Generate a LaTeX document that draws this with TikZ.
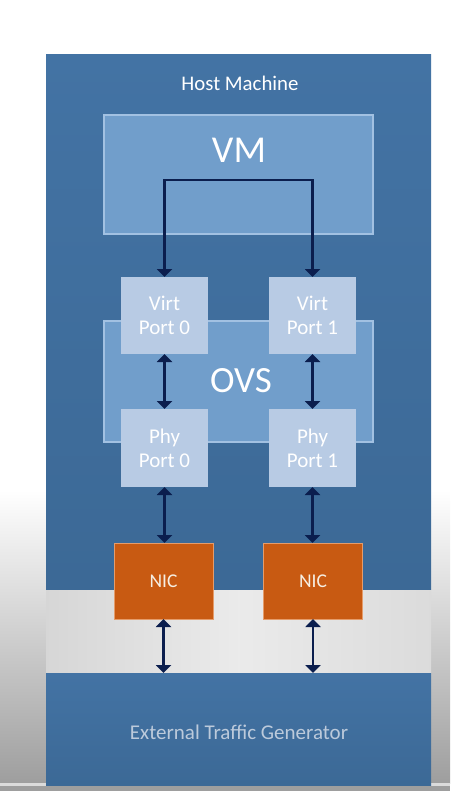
\documentclass[tikz,border=0pt]{standalone}
\usepackage{fontspec}
\setmainfont{Carlito}
\usetikzlibrary{arrows.meta}
\definecolor{hosttop}{HTML}{4373A4}
\definecolor{hostbot}{HTML}{3C6996}
\definecolor{vmblue}{HTML}{719ECB}
\definecolor{vmborder}{HTML}{A2C1E2}
\definecolor{portfill}{HTML}{B8CBE4}
\definecolor{nicorange}{HTML}{C85A12}
\definecolor{nicborder}{HTML}{E59C6A}
\definecolor{navy}{HTML}{0B1E4E}
\definecolor{exttext}{HTML}{BCCADB}
\definecolor{nictext}{HTML}{F6EEE2}
\begin{document}
\begin{tikzpicture}[x=1pt,y=-1pt,
  every node/.style={inner sep=0pt, outer sep=0pt},
  hostbox/.style={rectangle, top color=hosttop, bottom color=hostbot, draw=none},
  layerbox/.style={rectangle, fill=vmblue, draw=vmborder, line width=1.2pt},
  portbox/.style={rectangle, fill=portfill, draw=none, minimum width=87pt, minimum height=77pt,
    text=white, align=center, font=\fontsize{21}{24}\selectfont},
  nicbox/.style={rectangle, fill=nicorange, draw=nicborder, line width=1pt, minimum width=99pt,
    minimum height=76pt, text=nictext, font=\fontsize{19.5}{22}\selectfont},
  biarrow/.style={draw=navy, line width=2.6pt, line join=miter,
    {Triangle[width=15pt,length=8pt]}-{Triangle[width=15pt,length=8pt]}}
]
\useasboundingbox (0,0) rectangle (450,791);
% background
\fill[white] (0,0) rectangle (450,791);
\shade[top color=white, bottom color=black!38] (0,490) rectangle (450,783);
\shade[left color=black!16, right color=black!14, middle color=black!8] (46,589) rectangle (431,673);
\fill[black!14] (0,783) rectangle (450,786);
\fill[black!38] (0,786) rectangle (450,791);

% host machine
\node[hostbox, minimum width=385pt, minimum height=534pt] (host) at (238.5,322) {};
\node[text=white, font=\fontsize{20.8}{24}\selectfont] (hostlabel) at (240,83) {Host Machine};

% VM
\node[layerbox, minimum width=269pt, minimum height=119pt] (vm) at (238.5,174.5) {};
\node[text=white, font=\fontsize{38}{44}\selectfont] (vmlabel) at (239,150.5) {VM};

% OVS
\node[layerbox, minimum width=269pt, minimum height=121pt] (ovs) at (238.5,381.5) {};
\node[text=white, font=\fontsize{37}{42}\selectfont] (ovslabel) at (241,381) {OVS};

% ports
\node[portbox] (v0) at (164.5,315.5) {Virt\\Port 0};
\node[portbox] (v1) at (312.5,315.5) {Virt\\Port 1};
\node[portbox, minimum height=78pt] (p0) at (164.5,448) {Phy\\Port 0};
\node[portbox, minimum height=78pt] (p1) at (312.5,448) {Phy\\Port 1};

% NICs
\node[nicbox] (n0) at (163.5,581) {NIC};
\node[nicbox] (n1) at (313,581) {NIC};

% external generator
\node[hostbox, minimum width=385pt, minimum height=112pt] (ext) at (238.5,729) {};
\node[text=exttext, font=\fontsize{21}{24}\selectfont] (extlabel) at (239,732) {External Traffic Generator};

% connectors
\coordinate (bus) at (312.5,180);
\draw[biarrow] (v0.north) |- (bus) -| (v1.north);
\draw[biarrow] (v0.south) -- (p0.north);
\draw[biarrow] (v1.south) -- (p1.north);
\draw[biarrow] (p0.south) -- (p0.south |- n0.north);
\draw[biarrow] (p1.south) -- (p1.south |- n1.north);
\draw[biarrow] (n0.south) -- (n0.south |- ext.north);
\draw[biarrow] (n1.south) -- (n1.south |- ext.north);
\end{tikzpicture}
\end{document}
